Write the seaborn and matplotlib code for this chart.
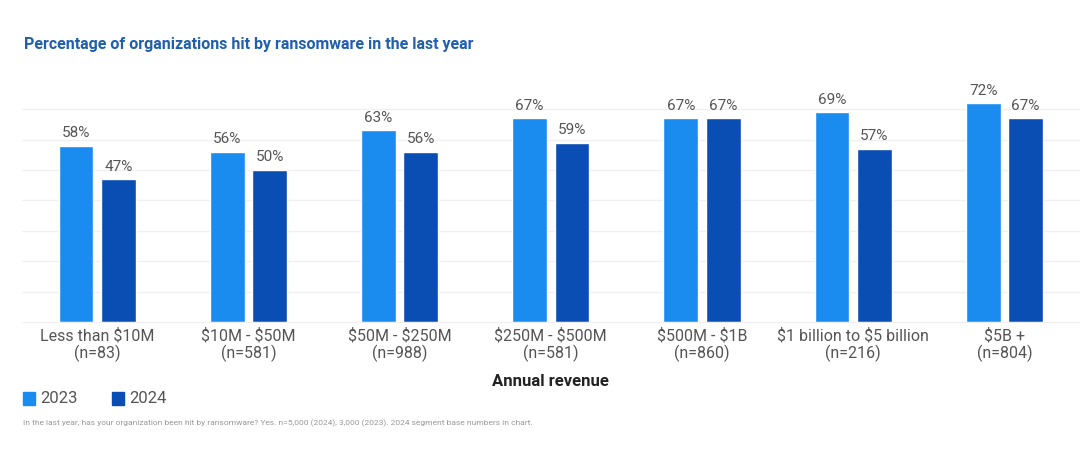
import pandas as pd
import seaborn as sb
import matplotlib.pyplot as plt

# Data
revenue = ['Less than $10M\n(n=83)', '$10M - $50M\n(n=581)', '$50M - $250M\n(n=988)',
           '$250M - $500M\n(n=581)', '$500M - $1B\n(n=860)', '$1 billion to $5 billion\n(n=216)',
           '$5B +\n(n=804)']
hit_2023 = [58, 56, 63, 67, 67, 69, 72]
hit_2024 = [47, 50, 56, 59, 67, 57, 67]
years = ['2023', '2024']
colors = ['#1a8cf0', '#0a4db3']

Data = pd.DataFrame({
    'Revenue': revenue * 2,
    'Year': [years[0]] * len(revenue) + [years[1]] * len(revenue),
    'Pct': hit_2023 + hit_2024,
})

sb.set_style('white')
plt.rcParams['font.family'] = ['Roboto', 'DejaVu Sans']
plt.rcParams['text.parse_math'] = False

fig = plt.figure(figsize=(10.8, 4.71), dpi=100)
ax = fig.add_axes([0.02, 0.316, 0.98, 0.478])

sb.barplot(data=Data, x='Revenue', y='Pct', hue='Year', palette=colors,
           width=0.56, gap=0.18, ax=ax, legend=False, saturation=1)

for cont in ax.containers:
    ax.bar_label(cont, labels=[f'{int(v)}%' for v in cont.datavalues],
                 padding=4, fontsize=11, color='#555555')

ax.set_ylim(0, 74)
ax.set_xlim(-0.5, 6.5)
ax.set_yticks(range(10, 80, 10))
ax.set_yticklabels([])
ax.tick_params(axis='y', length=0)
ax.tick_params(axis='x', length=0, labelsize=11.5, labelcolor='#555555', pad=4)
for t in ax.get_xticklabels():
    t.set_linespacing(1.1)
ax.grid(axis='y', color='#f0f0f0', linewidth=1)
ax.set_axisbelow(True)
for s in ['top', 'right', 'left']:
    ax.spines[s].set_visible(False)
ax.spines['bottom'].set_color('#eeeeee')
ax.set_ylabel('')
ax.set_xlabel('Annual revenue', fontsize=12, fontweight='bold', color='#222222', labelpad=9)

fig.text(0.022, 0.905, 'Percentage of organizations hit by ransomware in the last year',
         fontsize=11.5, fontweight='bold', color='#1f5fad', va='center')

# Legend
for i, (yr, c) in enumerate(zip(years, colors)):
    x0 = 0.021 + i * 0.083
    fig.patches.append(plt.Rectangle((x0, 0.140), 0.011, 0.027, transform=fig.transFigure,
                                     color=c, figure=fig))
    fig.text(x0 + 0.016, 0.153, yr, fontsize=12, color='#555555', va='center')

fig.text(0.021, 0.102, 'In the last year, has your organization been hit by ransomware? Yes. '
         'n=5,000 (2024), 3,000 (2023). 2024 segment base numbers in chart.',
         fontsize=6, color='#999999', va='center')

plt.savefig('out.png', dpi=100)
